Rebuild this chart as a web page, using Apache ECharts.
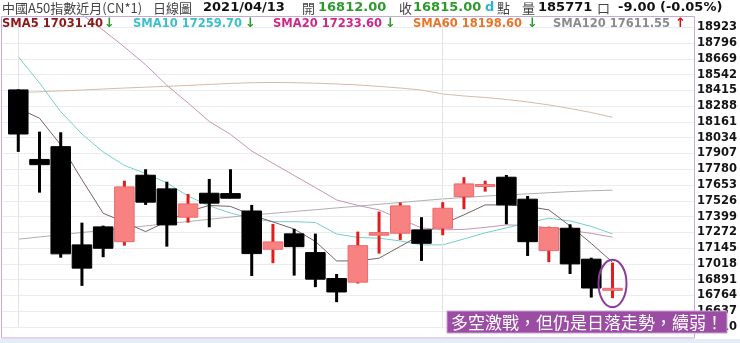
<!DOCTYPE html>
<html><head><meta charset="utf-8">
<script src="https://cdn.jsdelivr.net/npm/echarts@6/dist/echarts.min.js"></script>
<style>html,body{margin:0;padding:0;background:#fff;}#c{width:740px;height:343px;}</style>
</head><body><div id="c"></div>
<script>
// ---- data (China A50 near-month, daily) ----
const openP  = [18419, 17859, 17962, 17171, 17316, 17197, 17732, 17622, 17394, 17587, 17584, 17444, 17136, 17260, 17109, 16900, 16871, 17249, 17265, 17292, 17305, 17560, 17643, 17716, 17539, 17125, 17305, 17056, 16812];
const closeP = [18064, 17817, 17099, 16984, 17144, 17638, 17515, 17332, 17501, 17507, 17547, 17101, 17195, 17157, 16895, 16792, 17165, 17270, 17485, 17184, 17466, 17662, 17655, 17493, 17197, 17310, 17018, 16824, 16815];
const lowP   = [17920, 17592, 17068, 16841, 17072, 17165, 17493, 17157, 17350, 17313, 17547, 16921, 17024, 16924, 16831, 16710, 16860, 17101, 17211, 17042, 17249, 17458, 17600, 17337, 17082, 17032, 16937, 16747, 16742];
const highP  = [18423, 18083, 18078, 17350, 17326, 17688, 17780, 17680, 17581, 17702, 17780, 17493, 17340, 17300, 17262, 16937, 17278, 17439, 17512, 17394, 17515, 17716, 17688, 17734, 17565, 17318, 17337, 17068, 17028];
const sma5   = [18271, 18191, 17976, 17696, 17426, 17354, 17278, 17360, 17439, 17489, 17481, 17412, 17356, 17299, 17199, 17042, 17042, 17064, 17159, 17255, 17338, 17413, 17493, 17493, 17481, 17453, 17324, 17183, 17031.40];
const sma10  = [18686, 18475, 18244, 18064, 17919, 17811, 17746, 17670, 17565, 17485, 17428, 17384, 17358, 17358, 17352, 17259, 17231, 17225, 17203, 17171, 17171, 17219, 17268, 17308, 17348, 17386, 17364, 17320, 17259.70];
const sma20  = [19400, 19275, 19151, 19026, 18900, 18765, 18621, 18456, 18314, 18165, 18061, 17927, 17828, 17730, 17633, 17533, 17489, 17453, 17380, 17308, 17292, 17296, 17312, 17332, 17328, 17308, 17288, 17264, 17233.60];
const sma60  = [18397, 18404, 18411, 18418, 18426, 18434, 18441, 18448, 18455, 18463, 18471, 18477, 18479, 18477, 18473, 18467, 18459, 18447, 18434, 18418, 18386, 18370, 18358, 18342, 18322, 18298, 18269, 18237, 18198.60];
const sma120 = [17217, 17235, 17253, 17271, 17288, 17306, 17324, 17342, 17359, 17377, 17395, 17412, 17425, 17440, 17454, 17469, 17483, 17498, 17512, 17527, 17541, 17553, 17564, 17573, 17582, 17591, 17600, 17607, 17611.55];
const dividerIdx = [0, 20];           // faint vertical separators
const volume = 185771;
const titleName = '中國A50指數近月(CN*1)';
const chartType = '日線圖';
const lastDate = '2021/04/13';
const note = '多空激戰，但仍是日落走勢，續弱！';
const yMin = 16510, yMax = 19014, yStep = 127;
const totalSlots = 32;

// ---- build ----
const N = openP.length;
const candleData = openP.map((o, i) => [i, o, closeP[i], lowP[i], highP[i]]);
const upFill = '#f88282', upBorder = '#ea6a6a', upWick = '#e21c1c', downColor = '#000000';

function renderCandle(params, api) {
  const i = api.value(0), o = api.value(1), c = api.value(2), l = api.value(3), h = api.value(4);
  const pO = api.coord([i, o]), pC = api.coord([i, c]), pL = api.coord([i, l]), pH = api.coord([i, h]);
  const w = api.size([1, 0])[0] * 0.92;
  const up = c >= o;
  const x = pO[0];
  let top = Math.min(pO[1], pC[1]), bot = Math.max(pO[1], pC[1]);
  if (bot - top < 2) { const m = (top + bot) / 2; top = m - 1; bot = m + 1; }
  return {
    type: 'group',
    children: [
      { type: 'rect', shape: { x: x - 1.5, y: pH[1], width: 3, height: pL[1] - pH[1] }, style: { fill: up ? upWick : downColor } },
      { type: 'rect', shape: { x: x - w / 2, y: top, width: w, height: bot - top },
        style: { fill: up ? upFill : downColor, stroke: up ? upBorder : downColor, lineWidth: 1 } }
    ]
  };
}

function lineSeries(name, arr, color, extra) {
  return Object.assign({
    type: 'line', name, data: arr.map((v, i) => [i, v]), showSymbol: false, symbol: 'none',
    lineStyle: { color, width: 1 }, silent: true, z: 2, clip: true, animation: false
  }, extra || {});
}

const chart = echarts.init(document.getElementById('c'), null, { renderer: 'canvas' });
chart.setOption({
  animation: false,
  backgroundColor: '#ffffff',
  grid: { left: 1, right: 45, top: 16, bottom: 16, containLabel: false },
  xAxis: { type: 'value', min: -0.814, max: totalSlots - 0.16, show: false },
  yAxis: {
    type: 'value', position: 'right', min: yMin, max: yMax, interval: yStep, scale: true,
    axisLine: { show: false }, axisTick: { show: false },
    splitLine: { show: true, lineStyle: { color: '#ececec', width: 1 } },
    axisLabel: { showMaxLabel: false, margin: 3, color: '#151515', fontWeight: 'bold', fontSize: 11.5, fontFamily: 'DejaVu Sans',
      formatter: v => String(Math.round(v)) }
  },
  series: [
    lineSeries('SMA120', sma120, '#b4aeae', {
      markLine: { silent: true, symbol: 'none', label: { show: false },
        lineStyle: { color: '#e2e2e2', width: 1, type: 'solid' },
        data: dividerIdx.map(i => ({ xAxis: i })) }
    }),
    lineSeries('SMA60', sma60, '#d8bba6'),
    lineSeries('SMA20', sma20, '#c595b5'),
    lineSeries('SMA10', sma10, '#78cfca'),
    lineSeries('SMA5', sma5, '#7a6262'),
    { type: 'custom', name: 'K', data: candleData, renderItem: renderCandle, clip: true, z: 5,
      encode: { x: 0, y: [1, 2, 3, 4] }, silent: true }
  ]
});

// ---- texts & annotations ----
const cjk = '"Noto Sans CJK TC", "Noto Sans CJK SC", sans-serif';
const num = '"DejaVu Sans", Verdana, sans-serif';
function txt(text, x, y, color, font, extra) {
  return Object.assign({ type: 'text', x, y, z: 50, silent: true,
    style: { text, fill: color, font, verticalAlign: 'middle', align: 'left' } }, extra || {});
}
const last = N - 1;
const chg = closeP[last] - closeP[last - 1];
const chgPct = chg / closeP[last - 1] * 100;
const fmtSigned = v => (v < 0 ? '-' : '') + Math.abs(v).toFixed(2);
const green = '#2e9a2e';
const hdrY = 8, smaY = 24;
const hdr = 'bold 13px ' + num, hz = '13px ' + cjk;
const smaFont = 'bold 11.5px ' + num;
const arrowFont = 'bold 13px ' + num;
function arrow(arr) { return arr[last] >= arr[last - 1] ? '↑' : '↓'; }
function arrowColor(arr) { return arr[last] >= arr[last - 1] ? '#e01010' : green; }

const graphics = [
  { type: 'rect', z: 0, silent: true, shape: { x: 0, y: 339, width: 740, height: 4 }, style: { fill: '#e3edf7' } },
  { type: 'rect', z: 40, silent: true, shape: { x: 1.5, y: 16.5, width: 693, height: 321.5 }, style: { fill: 'none', stroke: '#c9a9d9', lineWidth: 1 } },
  txt(titleName, 2, hdrY, '#444', hz),
  txt(chartType, 153, hdrY, '#444', hz),
  txt(lastDate, 203, hdrY, '#111', hdr),
  txt('開', 302, hdrY, '#444', hz),
  txt(openP[last].toFixed(2), 318, hdrY, green, hdr),
  txt('收', 399, hdrY, '#444', hz),
  txt(closeP[last].toFixed(2), 413, hdrY, green, hdr),
  txt('d', 485, hdrY, '#2bb3d6', hdr),
  txt('點', 497, hdrY, '#444', hz),
  txt('量', 522, hdrY, '#444', hz),
  txt(String(volume), 538, hdrY, '#111', hdr),
  txt('口', 597, hdrY, '#444', hz),
  txt(fmtSigned(chg) + ' (' + fmtSigned(chgPct) + '%)', 618, hdrY, '#111', hdr),

  txt('SMA5 ' + sma5[last].toFixed(2), 2, smaY, '#8b1a1a', smaFont),
  txt(arrow(sma5), 104, smaY, arrowColor(sma5), arrowFont),
  txt('SMA10 ' + sma10[last].toFixed(2), 133, smaY, '#3cc0cc', smaFont),
  txt(arrow(sma10), 245, smaY, arrowColor(sma10), arrowFont),
  txt('SMA20 ' + sma20[last].toFixed(2), 273, smaY, '#d0288a', smaFont),
  txt(arrow(sma20), 385, smaY, arrowColor(sma20), arrowFont),
  txt('SMA60 ' + sma60[last].toFixed(2), 413, smaY, '#e8762a', smaFont),
  txt(arrow(sma60), 527, smaY, arrowColor(sma60), arrowFont),
  txt('SMA120 ' + sma120[last].toFixed(2), 553, smaY, '#8c8c8c', smaFont),
  txt(arrow(sma120), 675, smaY, arrowColor(sma120), arrowFont),

  { type: 'rect', z: 60, silent: true, shape: { x: 447, y: 311, width: 280, height: 22 }, style: { fill: '#9b4ca3', stroke: '#c9a0d3', lineWidth: 1 } },
  { type: 'text', z: 61, silent: true, x: 587, y: 322.5,
    style: { text: note, fill: '#ffffff', font: '17px ' + cjk, align: 'center', verticalAlign: 'middle' } }
];

// ellipse around the last candle, located from the data
const pHi = chart.convertToPixel({ xAxisIndex: 0, yAxisIndex: 0 }, [last, highP[last]]);
const pLo = chart.convertToPixel({ xAxisIndex: 0, yAxisIndex: 0 }, [last, lowP[last]]);
graphics.push({ type: 'ellipse', z: 30, silent: true,
  shape: { cx: pHi[0], cy: (pHi[1] + pLo[1]) / 2 + 3, rx: 14, ry: (pLo[1] - pHi[1]) / 2 + 6 },
  style: { fill: 'none', stroke: '#8e3c9c', lineWidth: 2 } });

chart.setOption({ graphic: graphics });
</script>
</body></html>
